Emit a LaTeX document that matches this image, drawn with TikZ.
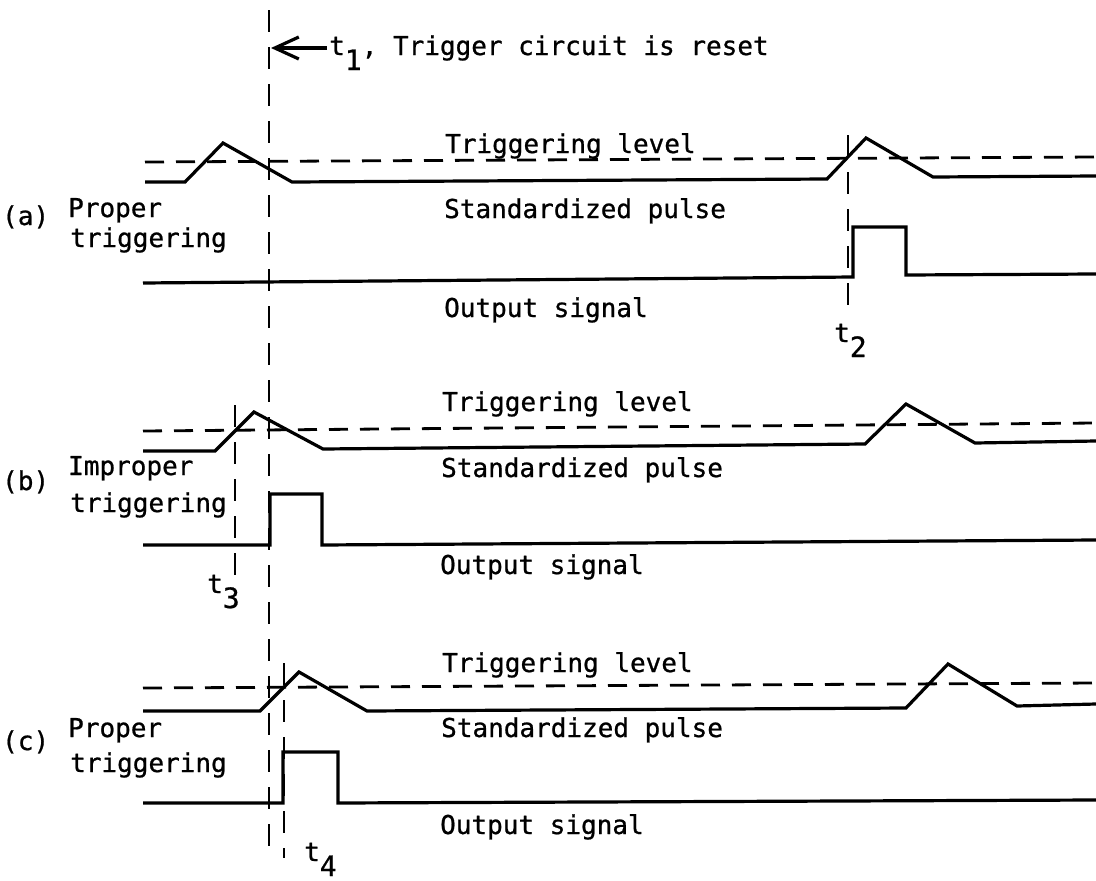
\documentclass[tikz,border=0pt]{standalone}
\usepackage{fontspec}
\setmainfont[FakeBold=0.8]{DejaVu Sans Mono}
\usetikzlibrary{arrows.meta}
\newcommand{\lowsub}[1]{\raisebox{-15pt}{\fontsize{28}{28}\selectfont #1}}
\begin{document}
\begin{tikzpicture}[x=1pt,y=-1pt,
  wave/.style={line width=3.2pt, line join=miter},
  outwave/.style={line width=3.2pt, line join=miter},
  levelline/.style={line width=2.8pt, dash pattern=on 19pt off 12pt},
  timeline/.style={line width=2.8pt, dash pattern=on 22pt off 15pt},
  lbl/.style={anchor=base west, inner sep=0pt, font=\fontsize{26}{30}\selectfont}]
\useasboundingbox (0,0) rectangle (1096,881);

% t1 reference line and arrow
\draw[timeline] (269,10) -- (269,856);
\coordinate (arrowtail) at (327,48);
\coordinate (arrowtip) at (271,48);
\draw[line width=3.2pt, -{Straight Barb[length=24pt,width=22pt,line width=3.2pt]}] (arrowtail) -- (arrowtip);
\node[lbl] (t1lbl) at (329,55) {t\lowsub{1}, Trigger circuit is reset};

% ---------- (a) ----------
\draw[levelline] (145,162) -- (1096,157);
\draw[wave] (145,182) -- (185,182) -- (223,143) -- (292,182) -- (827,179) -- (866,138) -- (933,177) -- (1096,176);
\draw[outwave] (143,283) -- (853,277) -- (853,227) -- (906,227) -- (906,275) -- (1096,274);
\draw[timeline] (848,135) -- (848,308);
\node[lbl] (alab) at (2,225) {(a)};
\node[lbl] (aprop) at (68,217) {Proper};
\node[lbl] (atrig) at (70,247) {triggering};
\node[lbl] (alevel) at (445,153) {Triggering level};
\node[lbl] (apulse) at (444,218) {Standardized pulse};
\node[lbl] (aout) at (444,317) {Output signal};
\node[lbl] (t2lbl) at (834,342) {t\lowsub{2}};

% ---------- (b) ----------
\draw[levelline] (143,431) -- (1096,423);
\draw[wave] (143,451) -- (215,451) -- (254,412) -- (323,449) -- (865,444) -- (906,404) -- (975,443) -- (1096,441);
\draw[outwave] (143,545) -- (270,545) -- (270,494) -- (322,494) -- (322,545) -- (1096,540);
\draw[timeline] (235,405) -- (235,576);
\node[lbl] (blab) at (2,490) {(b)};
\node[lbl] (bprop) at (68,475) {Improper};
\node[lbl] (btrig) at (70,512) {triggering};
\node[lbl] (blevel) at (442,411) {Triggering level};
\node[lbl] (bpulse) at (441,477) {Standardized pulse};
\node[lbl] (bout) at (440,574) {Output signal};
\node[lbl] (t3lbl) at (207,593) {t\lowsub{3}};

% ---------- (c) ----------
\draw[levelline] (143,688) -- (1096,683);
\draw[wave] (143,711) -- (260,711) -- (299,672) -- (367,711) -- (906,708) -- (948,664) -- (1017,706) -- (1096,704);
\draw[outwave] (143,803) -- (283,803) -- (283,752) -- (338,752) -- (338,803) -- (1096,800);
\draw[timeline] (284,663) -- (284,858);
\node[lbl] (clab) at (2,750) {(c)};
\node[lbl] (cprop) at (68,737) {Proper};
\node[lbl] (ctrig) at (70,772) {triggering};
\node[lbl] (clevel) at (442,672) {Triggering level};
\node[lbl] (cpulse) at (441,737) {Standardized pulse};
\node[lbl] (cout) at (440,834) {Output signal};
\node[lbl] (t4lbl) at (304,861) {t\lowsub{4}};
\end{tikzpicture}
\end{document}
